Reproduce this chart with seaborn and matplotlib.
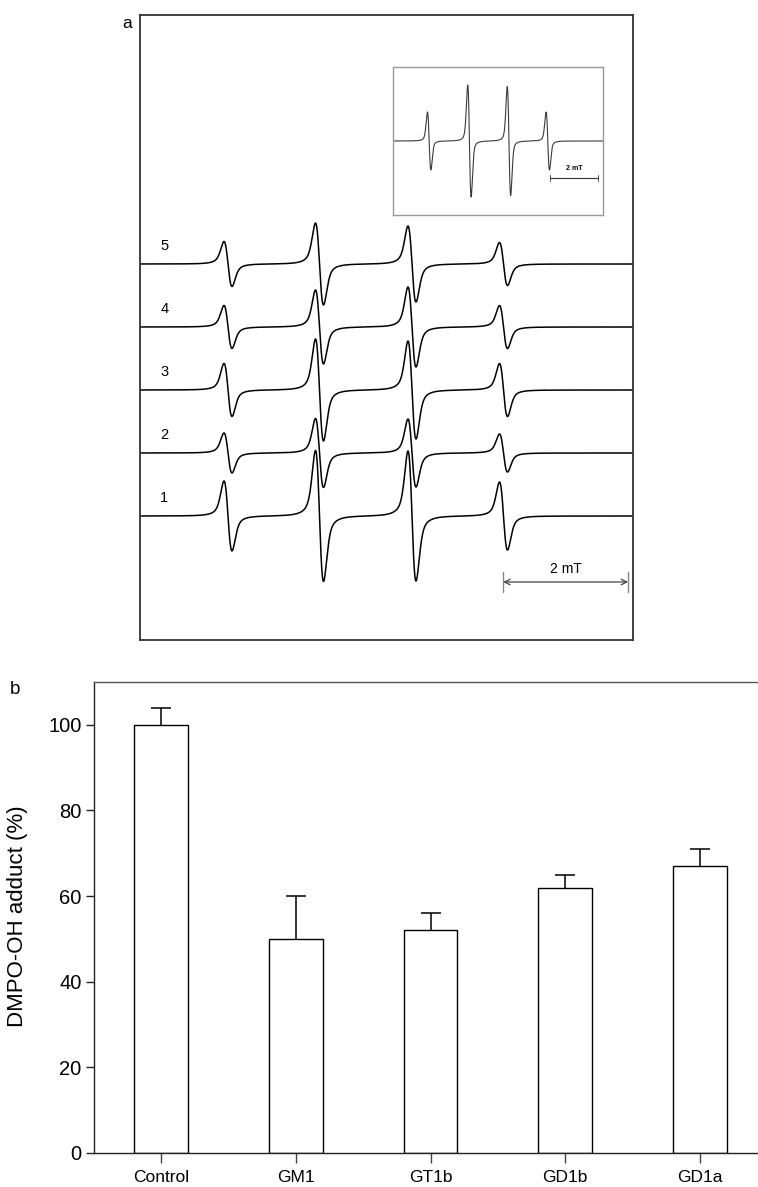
import numpy as np
import pandas as pd
import matplotlib
matplotlib.use("Agg")
import matplotlib.pyplot as plt
import seaborn as sns

# ---------------- data ----------------
# panel b
categories = ["Control", "GM1", "GT1b", "GD1b", "GD1a"]
adduct_pct = [100, 50, 52, 62, 67]
adduct_err = [4, 10, 4, 3, 4]

# panel a: EPR spectra (field in mT), DMPO-OH quartet
line_field_mT = [1.408, 2.872, 4.352, 5.816]          # centre of each line
trace_names = ["1", "2", "3", "4", "5"]
trace_pp = {                                           # peak-to-peak heights (a.u.)
    "1": [70, 131, 130, 68],
    "2": [40, 69, 68, 38],
    "3": [53, 102, 98, 53],
    "4": [43, 74, 80, 43],
    "5": [45, 82, 76, 43],
}
line_dhpp_mT = 0.128        # peak-to-peak line width
field_span_mT = 7.888

# inset spectrum
inset_field_mT = [1.50, 3.17, 4.81, 6.42]
inset_pp = [58, 112, 109, 58]
inset_dhpp_mT = 0.14
inset_span_mT = 8.71


def deriv_line(field, centres, pps, dhpp, lfrac=0.5):
    """first-derivative pseudo-Voigt lines normalised to given peak-to-peak heights"""
    gamma = dhpp * np.sqrt(3) / 2
    sigma = dhpp / 2
    y = np.zeros_like(field)
    for c, a in zip(centres, pps):
        u = (field - c) / gamma
        lor = (-2 * u / (1 + u ** 2) ** 2) / 1.299
        v = (field - c) / sigma
        gau = (-v * np.exp(-v ** 2 / 2)) / 1.2131
        y += a * (lfrac * lor + (1 - lfrac) * gau)
    return y


# ---------------- style ----------------
sns.set_style("white")
plt.rcParams["font.family"] = ["Liberation Sans", "DejaVu Sans"]
for k in ["text.color", "axes.labelcolor", "xtick.color", "ytick.color"]:
    plt.rcParams[k] = "black"

W, H = 758, 1187
fig = plt.figure(figsize=(W / 100, H / 100), dpi=100)


def fx(px):
    return px / W


def fy(py):
    return 1 - py / H


# ---------------- panel a ----------------
axa = fig.add_axes([fx(140), fy(640), fx(633 - 140), (640 - 15) / H])
axa.set_xlim(0, field_span_mT)
axa.set_ylim(0, 625)
field = np.linspace(0, field_span_mT, 3000)
base0, spacing = 124, 63
rows = []
for i, name in enumerate(trace_names):
    sig = deriv_line(field, line_field_mT, trace_pp[name], line_dhpp_mT)
    rows.append(pd.DataFrame({"B": field, "y": sig + base0 + i * spacing, "trace": name}))
    axa.text(0.39, base0 + i * spacing + 18, name, fontsize=10.5, ha="center", va="center")
spec = pd.concat(rows)
sns.lineplot(data=spec, x="B", y="y", units="trace", estimator=None, sort=False,
             color="black", linewidth=1.1, ax=axa, legend=False)
axa.set_xticks([])
axa.set_yticks([])
axa.set_xlabel("")
axa.set_ylabel("")
for s in axa.spines.values():
    s.set_color("#333333")
    s.set_linewidth(1.3)

# scale bar 2 mT
bar_y = 58
axa.annotate("", xy=(5.81, bar_y), xytext=(7.81, bar_y),
             arrowprops=dict(arrowstyle="<->", color="#444444", lw=0.9,
                             shrinkA=0, shrinkB=0, mutation_scale=10))
axa.plot([5.81, 5.81], [48, 68], color="#888888", lw=1)
axa.plot([7.81, 7.81], [48, 68], color="#888888", lw=1)
axa.text(6.81, 71, "2 mT", fontsize=10, ha="center", va="center")

# inset
axi = fig.add_axes([fx(393), fy(215), fx(603 - 393), (215 - 67) / H])
axi.set_xlim(0, inset_span_mT)
axi.set_ylim(-74, 74)
ifield = np.linspace(0, inset_span_mT, 3000)
isig = deriv_line(ifield, inset_field_mT, inset_pp, inset_dhpp_mT, lfrac=0.3)
sns.lineplot(x=ifield, y=isig, color="#3a3a3a", linewidth=0.8, ax=axi,
             estimator=None, sort=False)
axi.set_xticks([])
axi.set_yticks([])
for s in axi.spines.values():
    s.set_color("#9a9a9a")
    s.set_linewidth(1.0)
axi.plot([6.5, 8.5], [-37, -37], color="#333333", lw=0.8)
axi.plot([6.5, 6.5], [-40, -34], color="#333333", lw=0.6)
axi.plot([8.5, 8.5], [-40, -34], color="#333333", lw=0.6)
axi.text(7.5, -28, "2 mT", fontsize=5, ha="center", va="center", fontweight="bold")

fig.text(fx(127), fy(23), "a", fontsize=12.5, ha="center", va="center")

# ---------------- panel b ----------------
axb = fig.add_axes([fx(94), fy(1153), fx(767 - 94), (1153 - 682) / H])
dfb = pd.DataFrame({"cat": categories, "val": adduct_pct, "err": adduct_err})
sns.barplot(data=dfb, x="cat", y="val", width=0.4, color="white", saturation=1,
            edgecolor="black", linewidth=1.0, errorbar=None, ax=axb)
eb = axb.errorbar(np.arange(len(categories)), adduct_pct,
                  yerr=[np.zeros(len(categories)), adduct_err],
                  fmt="none", ecolor="black", elinewidth=1.1, capsize=7, capthick=1.1)
eb[1][0].set_visible(False)   # no cap at the bar top
axb.set_xlim(-0.5, 4.5)
axb.set_ylim(0, 110)
axb.set_yticks([0, 20, 40, 60, 80, 100])
axb.set_xlabel("")
axb.set_ylabel("DMPO-OH adduct (%)", fontsize=16)
axb.yaxis.label.set_verticalalignment("center")
axb.yaxis.set_label_coords(-(94 - 18) / (767 - 94), 0.503)
axb.tick_params(axis="y", which="major", left=True, length=6, width=1,
                labelsize=14.5, pad=3, color="#222222")
axb.tick_params(axis="x", which="major", bottom=True, length=7, width=1,
                labelsize=12.5, pad=5, color="#444444")
for s in axb.spines.values():
    s.set_color("#222222")
    s.set_linewidth(1.0)
axb.spines["top"].set_color("#555555")

fig.text(fx(15), fy(690), "b", fontsize=13.5, ha="center", va="center")

fig.savefig("out.png", dpi=100)
